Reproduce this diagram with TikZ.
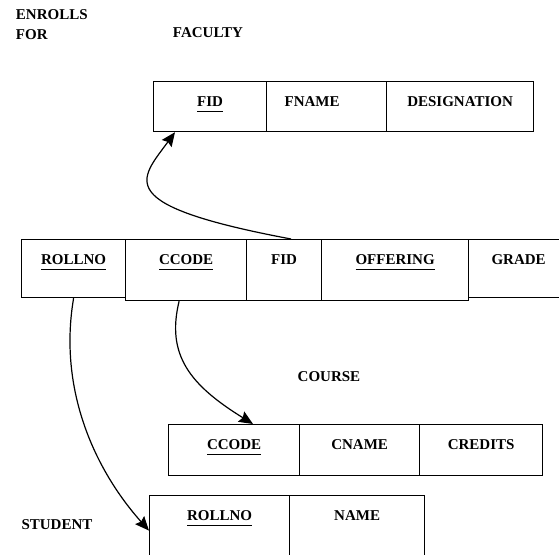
\documentclass[tikz,border=0pt]{standalone}
\usepackage{fontspec}
\setmainfont{Liberation Serif}
\usepackage{tikz}
\usetikzlibrary{arrows.meta}

\newcommand{\keyfield}[1]{\setbox0\hbox{#1}\rlap{\rule[-5.5pt]{\wd0}{1.3pt}}\box0}

\begin{document}
\begin{tikzpicture}[x=1pt,y=-1pt,->,>={Stealth[length=14pt,width=12pt,inset=2pt]},line width=1.2pt,
  cell/.style={draw,-,anchor=north west,inner xsep=0pt,inner ysep=13pt,text height=12pt,minimum height=0pt,font=\fontsize{15}{17}\selectfont\bfseries},
  title/.style={font=\fontsize{15}{17}\selectfont\bfseries}]
  \useasboundingbox (0,0) rectangle (559,554);

  % table names
  \node[title,anchor=west] (enr) at (12,15) {ENROLLS};
  \node[title,anchor=west] (for) at (12,35) {FOR};
  \node[title] (fac) at (208,33) {FACULTY};
  \node[title] (crs) at (329,377) {COURSE};
  \node[title] (stu) at (57,525) {STUDENT};

  % FACULTY
  \node[cell,minimum width=113pt,text depth=12pt] (fid) at (153,81) {\keyfield{FID}};
  \node[cell,text width=84pt,inner xsep=18pt,align=left,text depth=12pt] (fname) at (266,81) {FNAME};
  \node[cell,minimum width=147pt,text depth=12pt] (desig) at (386,81) {DESIGNATION};

  % ENROLLS FOR
  \node[cell,minimum width=104pt,text depth=20pt] (rollE) at (21,239) {\keyfield{ROLLNO}};
  \node[cell,minimum width=121pt,text depth=23pt] (ccodeE) at (125,239) {\keyfield{CCODE}};
  \node[cell,minimum width=75pt,text depth=23pt] (fidE) at (246,239) {FID};
  \node[cell,minimum width=147pt,text depth=23pt] (offer) at (321,239) {\keyfield{OFFERING}};
  \node[cell,minimum width=100pt,text depth=20pt] (grade) at (468,239) {GRADE};

  % COURSE
  \node[cell,minimum width=131pt,text depth=13pt] (ccodeC) at (168,424) {\keyfield{CCODE}};
  \node[cell,minimum width=120pt,text depth=13pt] (cname) at (299,424) {CNAME};
  \node[cell,minimum width=123pt,text depth=13pt] (credits) at (419,424) {CREDITS};

  % STUDENT
  \node[cell,minimum width=140pt,text depth=24pt] (rollS) at (149,495) {\keyfield{ROLLNO}};
  \node[cell,minimum width=135pt,text depth=24pt] (sname) at (289,495) {NAME};

  % foreign keys
  \draw ([xshift=7pt]fidE.north) .. controls (110,205) and (140,180) .. ([xshift=22pt]fid.south west);
  \draw (rollE.south) .. controls (58,390) and (95,470) .. ([yshift=-4pt]rollS.west);
  \draw ([xshift=-7pt]ccodeE.south) .. controls (166,355) and (190,385) .. ([xshift=85pt]ccodeC.north west);
\end{tikzpicture}
\end{document}
